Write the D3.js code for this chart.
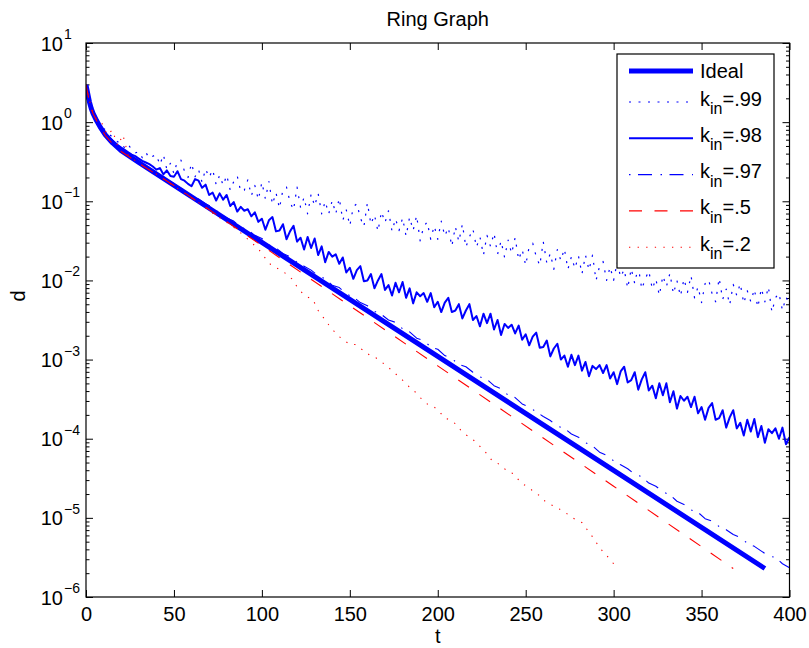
<!DOCTYPE html>
<html>
<head>
<meta charset="utf-8">
<script src="https://cdn.jsdelivr.net/npm/d3@7"></script>
<style>
  body { margin: 0; background: #fff; }
  text { font-family: "Liberation Sans", Arial, Helvetica, sans-serif; fill: #000; }
</style>
</head>
<body>
<svg id="chart" width="809" height="648"></svg>
<script>
// ---------------- DATA (values are log10 of d) ----------------
const chartTitle = "Ring Graph";
const xLabel = "t";
const yLabel = "d";
const xTickValues = [0, 50, 100, 150, 200, 250, 300, 350, 400];
const yDecades = [-6, -5, -4, -3, -2, -1, 0, 1];

// Ideal (thick solid blue)
const tIdeal = [0, 1, 2, 3, 4, 6, 8, 11, 15, 20, 30, 100, 200, 300, 386];
const logIdeal = [0.47, 0.36, 0.25, 0.17, 0.11, 0.02, -0.06, -0.16, -0.26, -0.36, -0.51, -1.52, -2.96, -4.40, -5.64];

// k_in = .99 (blue dotted), sampled every 2
const tK99 = d3.range(0, 401, 2);
const logK99 = [
  0.47, 0.26, 0.12, 0.04, -0.03, -0.08, -0.11, -0.17, -0.19, -0.25,
  -0.25, -0.33, -0.28, -0.35, -0.39, -0.37, -0.45, -0.38, -0.46, -0.43,
  -0.41, -0.54, -0.41, -0.60, -0.52, -0.65, -0.49, -0.48, -0.62, -0.70,
  -0.52, -0.69, -0.60, -0.76, -0.59, -0.70, -0.60, -0.79, -0.67, -0.80,
  -0.67, -0.86, -0.75, -0.68, -0.88, -0.86, -0.73, -0.93, -0.80, -0.98,
  -0.76, -0.97, -0.75, -1.04, -0.89, -1.09, -0.85, -0.82, -1.01, -1.11,
  -0.82, -1.08, -0.95, -1.16, -0.91, -1.06, -0.90, -1.16, -1.00, -1.16,
  -0.99, -1.16, -0.96, -1.24, -1.11, -1.31, -1.07, -1.03, -1.21, -1.32,
  -1.02, -1.29, -1.17, -1.38, -1.13, -1.27, -1.12, -1.38, -1.22, -1.37,
  -1.21, -1.44, -1.20, -1.37, -1.18, -1.50, -1.32, -1.26, -1.48, -1.31,
  -1.48, -1.25, -1.44, -1.33, -1.57, -1.32, -1.51, -1.29, -1.58, -1.45,
  -1.35, -1.58, -1.45, -1.68, -1.43, -1.57, -1.40, -1.67, -1.50, -1.71,
  -1.49, -1.66, -1.46, -1.74, -1.61, -1.81, -1.57, -1.53, -1.70, -1.81,
  -1.51, -1.78, -1.66, -1.86, -1.61, -1.75, -1.60, -1.86, -1.70, -1.85,
  -1.69, -1.92, -1.68, -1.87, -1.68, -2.00, -1.82, -1.76, -2.00, -1.83,
  -2.00, -1.77, -1.96, -1.86, -2.10, -1.85, -2.04, -1.82, -2.11, -1.98,
  -1.88, -2.11, -1.98, -2.19, -1.94, -2.08, -1.91, -2.17, -2.00, -2.20,
  -1.98, -2.15, -1.94, -2.22, -2.08, -2.28, -2.04, -1.99, -2.17, -2.27,
  -1.97, -2.24, -2.11, -2.31, -2.05, -2.19, -2.04, -2.29, -2.13, -2.27,
  -2.11, -2.34, -2.10, -2.27, -2.08, -2.40, -2.22, -2.16, -2.38, -2.21,
  -2.30
];

// k_in = .98 (blue solid), sampled every 2
const tK98 = d3.range(0, 401, 2);
const logK98 = [
  0.47, 0.24, 0.11, 0.03, -0.05, -0.12, -0.17, -0.21, -0.25, -0.29,
  -0.32, -0.35, -0.38, -0.41, -0.43, -0.46, -0.49, -0.51, -0.53, -0.56,
  -0.60, -0.58, -0.66, -0.61, -0.68, -0.69, -0.62, -0.72, -0.74, -0.78,
  -0.81, -0.72, -0.74, -0.83, -0.79, -0.92, -0.89, -0.99, -0.90, -0.98,
  -0.92, -1.06, -1.01, -1.13, -1.07, -1.12, -1.10, -1.19, -1.14, -1.26,
  -1.22, -1.36, -1.24, -1.20, -1.38, -1.37, -1.29, -1.48, -1.38, -1.31,
  -1.51, -1.46, -1.61, -1.45, -1.59, -1.47, -1.68, -1.57, -1.77, -1.64,
  -1.70, -1.67, -1.79, -1.71, -1.90, -1.84, -1.98, -1.87, -1.82, -2.01,
  -2.00, -1.92, -2.10, -2.00, -1.92, -2.12, -2.06, -2.19, -2.03, -2.15,
  -2.02, -2.22, -2.10, -2.29, -2.15, -2.20, -2.16, -2.27, -2.16, -2.34,
  -2.27, -2.40, -2.28, -2.22, -2.40, -2.38, -2.30, -2.48, -2.38, -2.30,
  -2.50, -2.45, -2.58, -2.42, -2.54, -2.42, -2.62, -2.50, -2.69, -2.55,
  -2.60, -2.56, -2.67, -2.57, -2.75, -2.68, -2.82, -2.71, -2.66, -2.85,
  -2.84, -2.76, -2.96, -2.86, -2.80, -3.00, -2.95, -3.09, -2.94, -3.07,
  -2.95, -3.14, -3.03, -3.21, -3.08, -3.12, -3.07, -3.17, -3.07, -3.24,
  -3.16, -3.31, -3.15, -3.09, -3.29, -3.26, -3.16, -3.38, -3.25, -3.16,
  -3.39, -3.33, -3.49, -3.30, -3.45, -3.30, -3.54, -3.40, -3.62, -3.46,
  -3.52, -3.47, -3.60, -3.47, -3.68, -3.60, -3.76, -3.61, -3.55, -3.76,
  -3.74, -3.64, -3.86, -3.73, -3.64, -3.87, -3.80, -3.96, -3.76, -3.91,
  -3.75, -3.98, -3.84, -4.05, -3.88, -3.93, -3.87, -4.00, -3.86, -4.07,
  -3.98
];

// k_in = .97 (blue dash-dot), sampled every 4
const tK97 = d3.range(0, 401, 4);
const logK97 = [
  0.47, 0.12, -0.04, -0.16, -0.26, -0.34, -0.41, -0.47, -0.52, -0.58,
  -0.64, -0.69, -0.75, -0.81, -0.86, -0.92, -0.97, -1.03, -1.08, -1.15,
  -1.21, -1.25, -1.33, -1.36, -1.43, -1.47, -1.55, -1.59, -1.66, -1.70,
  -1.77, -1.82, -1.87, -1.94, -1.98, -2.06, -2.09, -2.17, -2.21, -2.28,
  -2.32, -2.39, -2.43, -2.50, -2.53, -2.61, -2.65, -2.73, -2.76, -2.84,
  -2.87, -2.95, -2.99, -3.06, -3.09, -3.16, -3.22, -3.25, -3.33, -3.37,
  -3.45, -3.48, -3.56, -3.60, -3.66, -3.72, -3.77, -3.84, -3.87, -3.94,
  -3.98, -4.05, -4.09, -4.17, -4.21, -4.28, -4.33, -4.38, -4.45, -4.48,
  -4.56, -4.60, -4.67, -4.71, -4.79, -4.83, -4.90, -4.93, -5.01, -5.04,
  -5.11, -5.15, -5.21, -5.25, -5.32, -5.36, -5.42, -5.48, -5.50, -5.58,
  -5.63
];

// k_in = .5 (red dashed)
const tK5 = [0, 1, 2, 3, 4, 6, 8, 11, 15, 20, 30, 40, 50, 65, 100, 200, 300, 368];
const logK5 = [0.47, 0.36, 0.25, 0.17, 0.11, 0.02, -0.06, -0.17, -0.27, -0.37, -0.52, -0.66, -0.80, -1.03, -1.56, -3.08, -4.60, -5.64];

// k_in = .2 (red dotted), sampled every 3 up to 300, plus last point 301
const tK2 = d3.range(0, 301, 3).concat([301]);
const logK2 = [
  0.47, 0.17, 0.03, -0.01, -0.16, -0.10, -0.30, -0.16, -0.42, -0.47,
  -0.52, -0.56, -0.60, -0.64, -0.69, -0.73, -0.78, -0.82, -0.87, -0.91,
  -0.96, -1.00, -1.05, -1.10, -1.15, -1.19, -1.24, -1.28, -1.33, -1.38,
  -1.44, -1.50, -1.56, -1.63, -1.72, -1.80, -1.84, -1.87, -1.92, -1.98,
  -2.08, -2.16, -2.21, -2.24, -2.38, -2.47, -2.56, -2.64, -2.71, -2.76,
  -2.81, -2.81, -2.86, -2.90, -2.96, -2.98, -3.03, -3.08, -3.14, -3.20,
  -3.26, -3.33, -3.38, -3.46, -3.52, -3.58, -3.60, -3.66, -3.74, -3.76,
  -3.81, -3.89, -3.95, -3.99, -4.05, -4.12, -4.19, -4.28, -4.31, -4.36,
  -4.42, -4.44, -4.52, -4.58, -4.62, -4.68, -4.72, -4.79, -4.83, -4.86,
  -4.90, -4.94, -4.99, -5.03, -5.06, -5.15, -5.24, -5.34, -5.43, -5.50,
  -5.58, -5.62
];

const legendMain = ["Ideal", "k", "k", "k", "k", "k"];
const legendSub  = ["", "in", "in", "in", "in", "in"];
const legendTail = ["", "=.99", "=.98", "=.97", "=.5", "=.2"];

// ---------------- LAYOUT / STYLE ----------------
const L = 86, R = 789.5, T = 43, B = 597;
const svg = d3.select("#chart");
const x = d3.scaleLinear().domain([0, 400]).range([L, R]);
const y = d3.scaleLog().domain([1e-6, 10]).range([B, T]);

const styles = [
  { color: "#0000ff", width: 5,   dash: null },
  { color: "#0000ff", width: 1.2, dash: "2,7.5" },
  { color: "#0000ff", width: 2,   dash: null },
  { color: "#0000ff", width: 1.1, dash: "1.5,7.5,14,8.5" },
  { color: "#ff0000", width: 1.1, dash: "13,12.5" },
  { color: "#ff0000", width: 1.1, dash: "1.3,7.3" }
];
const seriesT = [tIdeal, tK99, tK98, tK97, tK5, tK2];
const seriesLog = [logIdeal, logK99, logK98, logK97, logK5, logK2];

svg.append("rect").attr("width", 809).attr("height", 648).attr("fill", "#fff");

svg.append("defs").append("clipPath").attr("id", "plotclip")
  .append("rect").attr("x", L).attr("y", T).attr("width", R - L).attr("height", B - T);

// Ticks (inward)
const gx = svg.append("g").attr("transform", `translate(0,${B})`)
  .call(d3.axisBottom(x).tickValues(xTickValues).tickSizeInner(-7).tickSizeOuter(0).tickPadding(9.5).tickFormat(d3.format("d")));
const gxTop = svg.append("g").attr("transform", `translate(0,${T})`)
  .call(d3.axisTop(x).tickValues(xTickValues).tickSizeInner(-7).tickSizeOuter(0).tickFormat(""));

const majorY = yDecades.map(k => Math.pow(10, k));
const minorY = [];
yDecades.slice(0, -1).forEach(k => { for (let m = 2; m <= 9; m++) minorY.push(m * Math.pow(10, k)); });

const gyL = svg.append("g").attr("transform", `translate(${L},0)`)
  .call(d3.axisLeft(y).tickValues(majorY).tickSizeInner(-7).tickSizeOuter(0).tickFormat(""));
const gyLm = svg.append("g").attr("transform", `translate(${L},0)`)
  .call(d3.axisLeft(y).tickValues(minorY).tickSizeInner(-3.5).tickSizeOuter(0).tickFormat(""));
const gyR = svg.append("g").attr("transform", `translate(${R},0)`)
  .call(d3.axisRight(y).tickValues(majorY).tickSizeInner(-7).tickSizeOuter(0).tickFormat(""));
const gyRm = svg.append("g").attr("transform", `translate(${R},0)`)
  .call(d3.axisRight(y).tickValues(minorY).tickSizeInner(-3.5).tickSizeOuter(0).tickFormat(""));

[gx, gxTop, gyL, gyLm, gyR, gyRm].forEach(g => {
  g.select(".domain").remove();
  g.selectAll(".tick line").attr("stroke", "#000").attr("stroke-width", 1);
});
gx.selectAll(".tick text").attr("font-size", 20).attr("fill", "#000")
  .attr("font-family", "'Liberation Sans', Arial, sans-serif");

// Y tick labels: 10 with superscript exponent
yDecades.forEach(k => {
  const yy = y(Math.pow(10, k));
  svg.append("text").attr("x", 63).attr("y", yy + 7.5)
    .attr("text-anchor", "end").attr("font-size", 20).text("10");
  svg.append("text").attr("x", 64).attr("y", yy - 4)
    .attr("font-size", 14).text(k < 0 ? "\u2212" + Math.abs(k) : String(k));
});

// Series
const plot = svg.append("g").attr("clip-path", "url(#plotclip)");
const line = d3.line().x(d => x(d[0])).y(d => y(d[1]));
seriesT.forEach((ts, i) => {
  const pts = ts.map((t, j) => [t, Math.pow(10, seriesLog[i][j])]);
  const p = plot.append("path").datum(pts)
    .attr("d", line).attr("fill", "none")
    .attr("stroke", styles[i].color).attr("stroke-width", styles[i].width)
    .attr("stroke-linejoin", "round");
  if (styles[i].dash) p.attr("stroke-dasharray", styles[i].dash);
});

// Axes box
svg.append("rect").attr("x", L).attr("y", T).attr("width", R - L).attr("height", B - T)
  .attr("fill", "none").attr("stroke", "#000").attr("stroke-width", 1.2);

// Title and axis labels
svg.append("text").attr("x", (L + R) / 2).attr("y", 26).attr("text-anchor", "middle")
  .attr("font-size", 20).text(chartTitle);
svg.append("text").attr("x", (L + R) / 2).attr("y", 643.3).attr("text-anchor", "middle")
  .attr("font-size", 20).text(xLabel);
svg.append("text").attr("transform", "translate(25,296) rotate(-90)").attr("text-anchor", "middle")
  .attr("font-size", 20).text(yLabel);

// Legend
const lg = svg.append("g");
lg.append("rect").attr("x", 617).attr("y", 54).attr("width", 157).attr("height", 214)
  .attr("fill", "#fff").attr("stroke", "#000").attr("stroke-width", 1.2);
legendMain.forEach((lab, i) => {
  const ly = i === 0 ? 71 : 102 + (i - 1) * 36.3;
  const ln = lg.append("line").attr("x1", 629).attr("x2", 693).attr("y1", ly).attr("y2", ly)
    .attr("stroke", styles[i].color).attr("stroke-width", styles[i].width);
  if (styles[i].dash) ln.attr("stroke-dasharray", styles[i].dash);
  const tx = lg.append("text").attr("x", 700).attr("y", ly + (i === 0 ? 6.7 : 3.5)).attr("font-size", 20);
  tx.append("tspan").text(lab);
  if (legendSub[i]) {
    tx.append("tspan").attr("font-size", 16).attr("dy", 8.5).text(legendSub[i]);
    tx.append("tspan").attr("dy", -8.5).text(legendTail[i]);
  }
});
</script>
</body>
</html>
